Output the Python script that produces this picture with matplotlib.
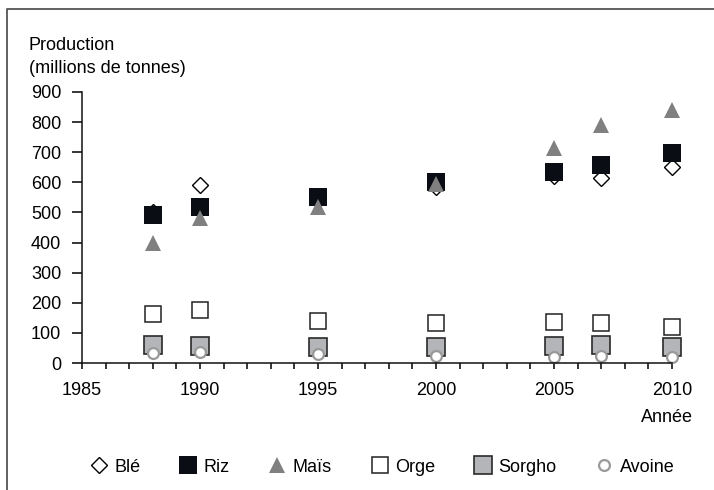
import matplotlib.pyplot as plt
from matplotlib.lines import Line2D
from matplotlib.ticker import MultipleLocator

plt.rcParams['font.family'] = ['Liberation Sans', 'DejaVu Sans']

# Données (millions de tonnes)
annees = [1988, 1990, 1995, 2000, 2005, 2007, 2010]
ble = [500, 591, 540, 585, 620, 615, 650]
riz = [490, 519, 550, 600, 635, 658, 699]
mais = [400, 482, 518, 595, 714, 790, 840]
orge = [164, 177, 138, 133, 137, 133, 121]
sorgho = [61, 55, 53, 54, 58, 60, 54]
avoine = [32, 38, 29, 23, 21, 23, 19]

fig = plt.figure(figsize=(7.14, 4.9), dpi=100)
ax = fig.add_axes([82 / 714, 1 - 363 / 490, 590 / 714, 271 / 490])

series = [
    ('Blé', ble, dict(marker='D', ms=8.3, mfc='white', mec='black', mew=1.0)),
    ('Riz', riz, dict(marker='s', ms=13.3, mfc='#0a0d14', mec='#0a0d14', mew=0)),
    ('Maïs', mais, dict(marker='^', ms=11.3, mfc='#808080', mec='#808080', mew=0)),
    ('Orge', orge, dict(marker='s', ms=12.0, mfc='white', mec='#222222', mew=1.1)),
    ('Sorgho', sorgho, dict(marker='s', ms=13.2, mfc='#b3b5b8', mec='#2a2a2a', mew=1.2)),
    ('Avoine', avoine, dict(marker='o', ms=7.8, mfc='white', mec='#999999', mew=1.6)),
]

handles = []
for name, vals, style in series:
    h, = ax.plot(annees, vals, linestyle='none', clip_on=False, label=name, **style)
    handles.append(h)

ax.set_xlim(1985, 2010)
ax.set_ylim(0, 900)
ax.set_xticks(range(1985, 2011, 5))
ax.xaxis.set_minor_locator(MultipleLocator(1))
ax.set_yticks(range(0, 901, 100))

for side in ['top', 'right']:
    ax.spines[side].set_visible(False)
for side in ['left', 'bottom']:
    ax.spines[side].set_linewidth(1.1)
    ax.spines[side].set_color('#111111')

ax.tick_params(axis='y', direction='out', length=7, width=1.1, pad=8, labelsize=13)
ax.tick_params(axis='x', which='both', direction='out', length=4.5, width=1.1)
ax.tick_params(axis='x', which='major', pad=9, labelsize=13)

fig.text(29 / 714, 1 - 50 / 490, 'Production', fontsize=13, va='baseline')
fig.text(29 / 714, 1 - 73 / 490, '(millions de tonnes)', fontsize=13, va='baseline')
fig.text(693 / 714, 1 - 422 / 490, 'Année', fontsize=13, ha='right', va='baseline')

fig.legend(handles=handles, loc='center', bbox_to_anchor=(382 / 714, 1 - 467 / 490),
           ncol=6, frameon=False, fontsize=13, handlelength=1.0,
           handletextpad=0.35, columnspacing=2.15, borderaxespad=0)

# cadre gauche et haut
fig.add_artist(Line2D([7 / 714, 7 / 714, 1], [0, 1 - 9 / 490, 1 - 9 / 490],
                      transform=fig.transFigure, color='#555555', lw=1.3))

fig.savefig('out.png', dpi=100)
